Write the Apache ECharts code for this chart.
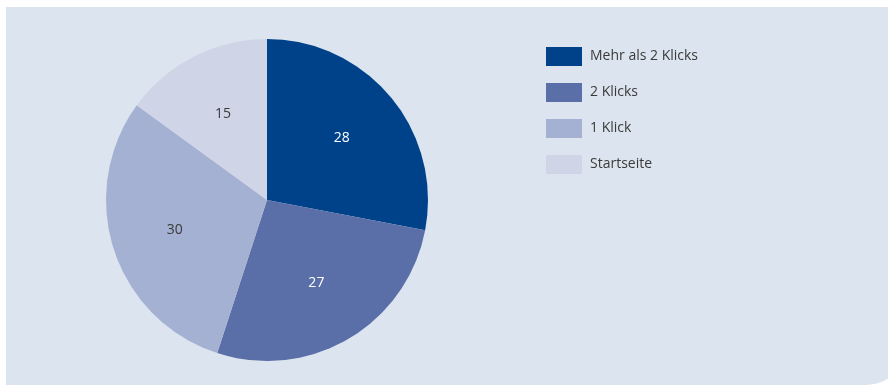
<!DOCTYPE html>
<html>
<head>
<meta charset="utf-8">
<script src="https://cdn.jsdelivr.net/npm/echarts@6/dist/echarts.min.js"></script>
<style>
  html, body { margin: 0; padding: 0; background: #ffffff; }
  #wrap { position: relative; width: 888px; height: 387px; overflow: hidden; }
  #panel { position: absolute; left: 6px; top: 7px; width: 900px; height: 378px;
           background: #dce5ef; border-bottom-right-radius: 40px; }
  #chart { position: absolute; left: 0; top: 0; width: 888px; height: 387px; }
</style>
</head>
<body>
<div id="wrap">
  <div id="panel"></div>
  <div id="chart"></div>
</div>
<script>
// Share of page visits by click depth
const categories = ['Mehr als 2 Klicks', '2 Klicks', '1 Klick', 'Startseite'];
const values = [28, 27, 30, 15];
const colors = ['#00428a', '#5a6ea8', '#a5b1d2', '#cfd5e7'];
const labelColors = ['#ffffff', '#ffffff', '#3a3a3a', '#3a3a3a'];

const fontFamily = '"Open Sans", "Noto Sans", sans-serif';

const sliceData = categories.map((name, i) => ({
  name,
  value: values[i],
  itemStyle: { color: colors[i] }
}));

// A second, transparent pie carries the value labels a bit further out
const labelData = categories.map((name, i) => ({
  name,
  value: values[i],
  itemStyle: { color: 'rgba(0,0,0,0)' },
  label: { color: labelColors[i] }
}));

const chart = echarts.init(document.getElementById('chart'), null, { renderer: 'canvas' });
chart.setOption({
  backgroundColor: 'transparent',
  animation: false,
  legend: {
    orient: 'vertical',
    left: 546,
    top: 47,
    padding: 0,
    itemWidth: 36,
    itemHeight: 19,
    itemGap: 17,
    icon: 'rect',
    selectedMode: false,
    textStyle: { fontFamily, fontSize: 14, color: '#3a3a3a', padding: [0, 0, 0, 3] },
    data: categories
  },
  series: [
    {
      type: 'pie',
      center: [267, 200],
      radius: [0, 161],
      startAngle: 90,
      clockwise: true,
      silent: true,
      label: { show: false },
      labelLine: { show: false },
      data: sliceData
    },
    {
      type: 'pie',
      center: [267, 200],
      radius: [0, 188],
      startAngle: 90,
      clockwise: true,
      silent: true,
      legendHoverLink: false,
      label: {
        show: true,
        position: 'inside',
        formatter: '{c}',
        fontFamily,
        fontSize: 14
      },
      labelLine: { show: false },
      data: labelData
    }
  ]
});
</script>
</body>
</html>
